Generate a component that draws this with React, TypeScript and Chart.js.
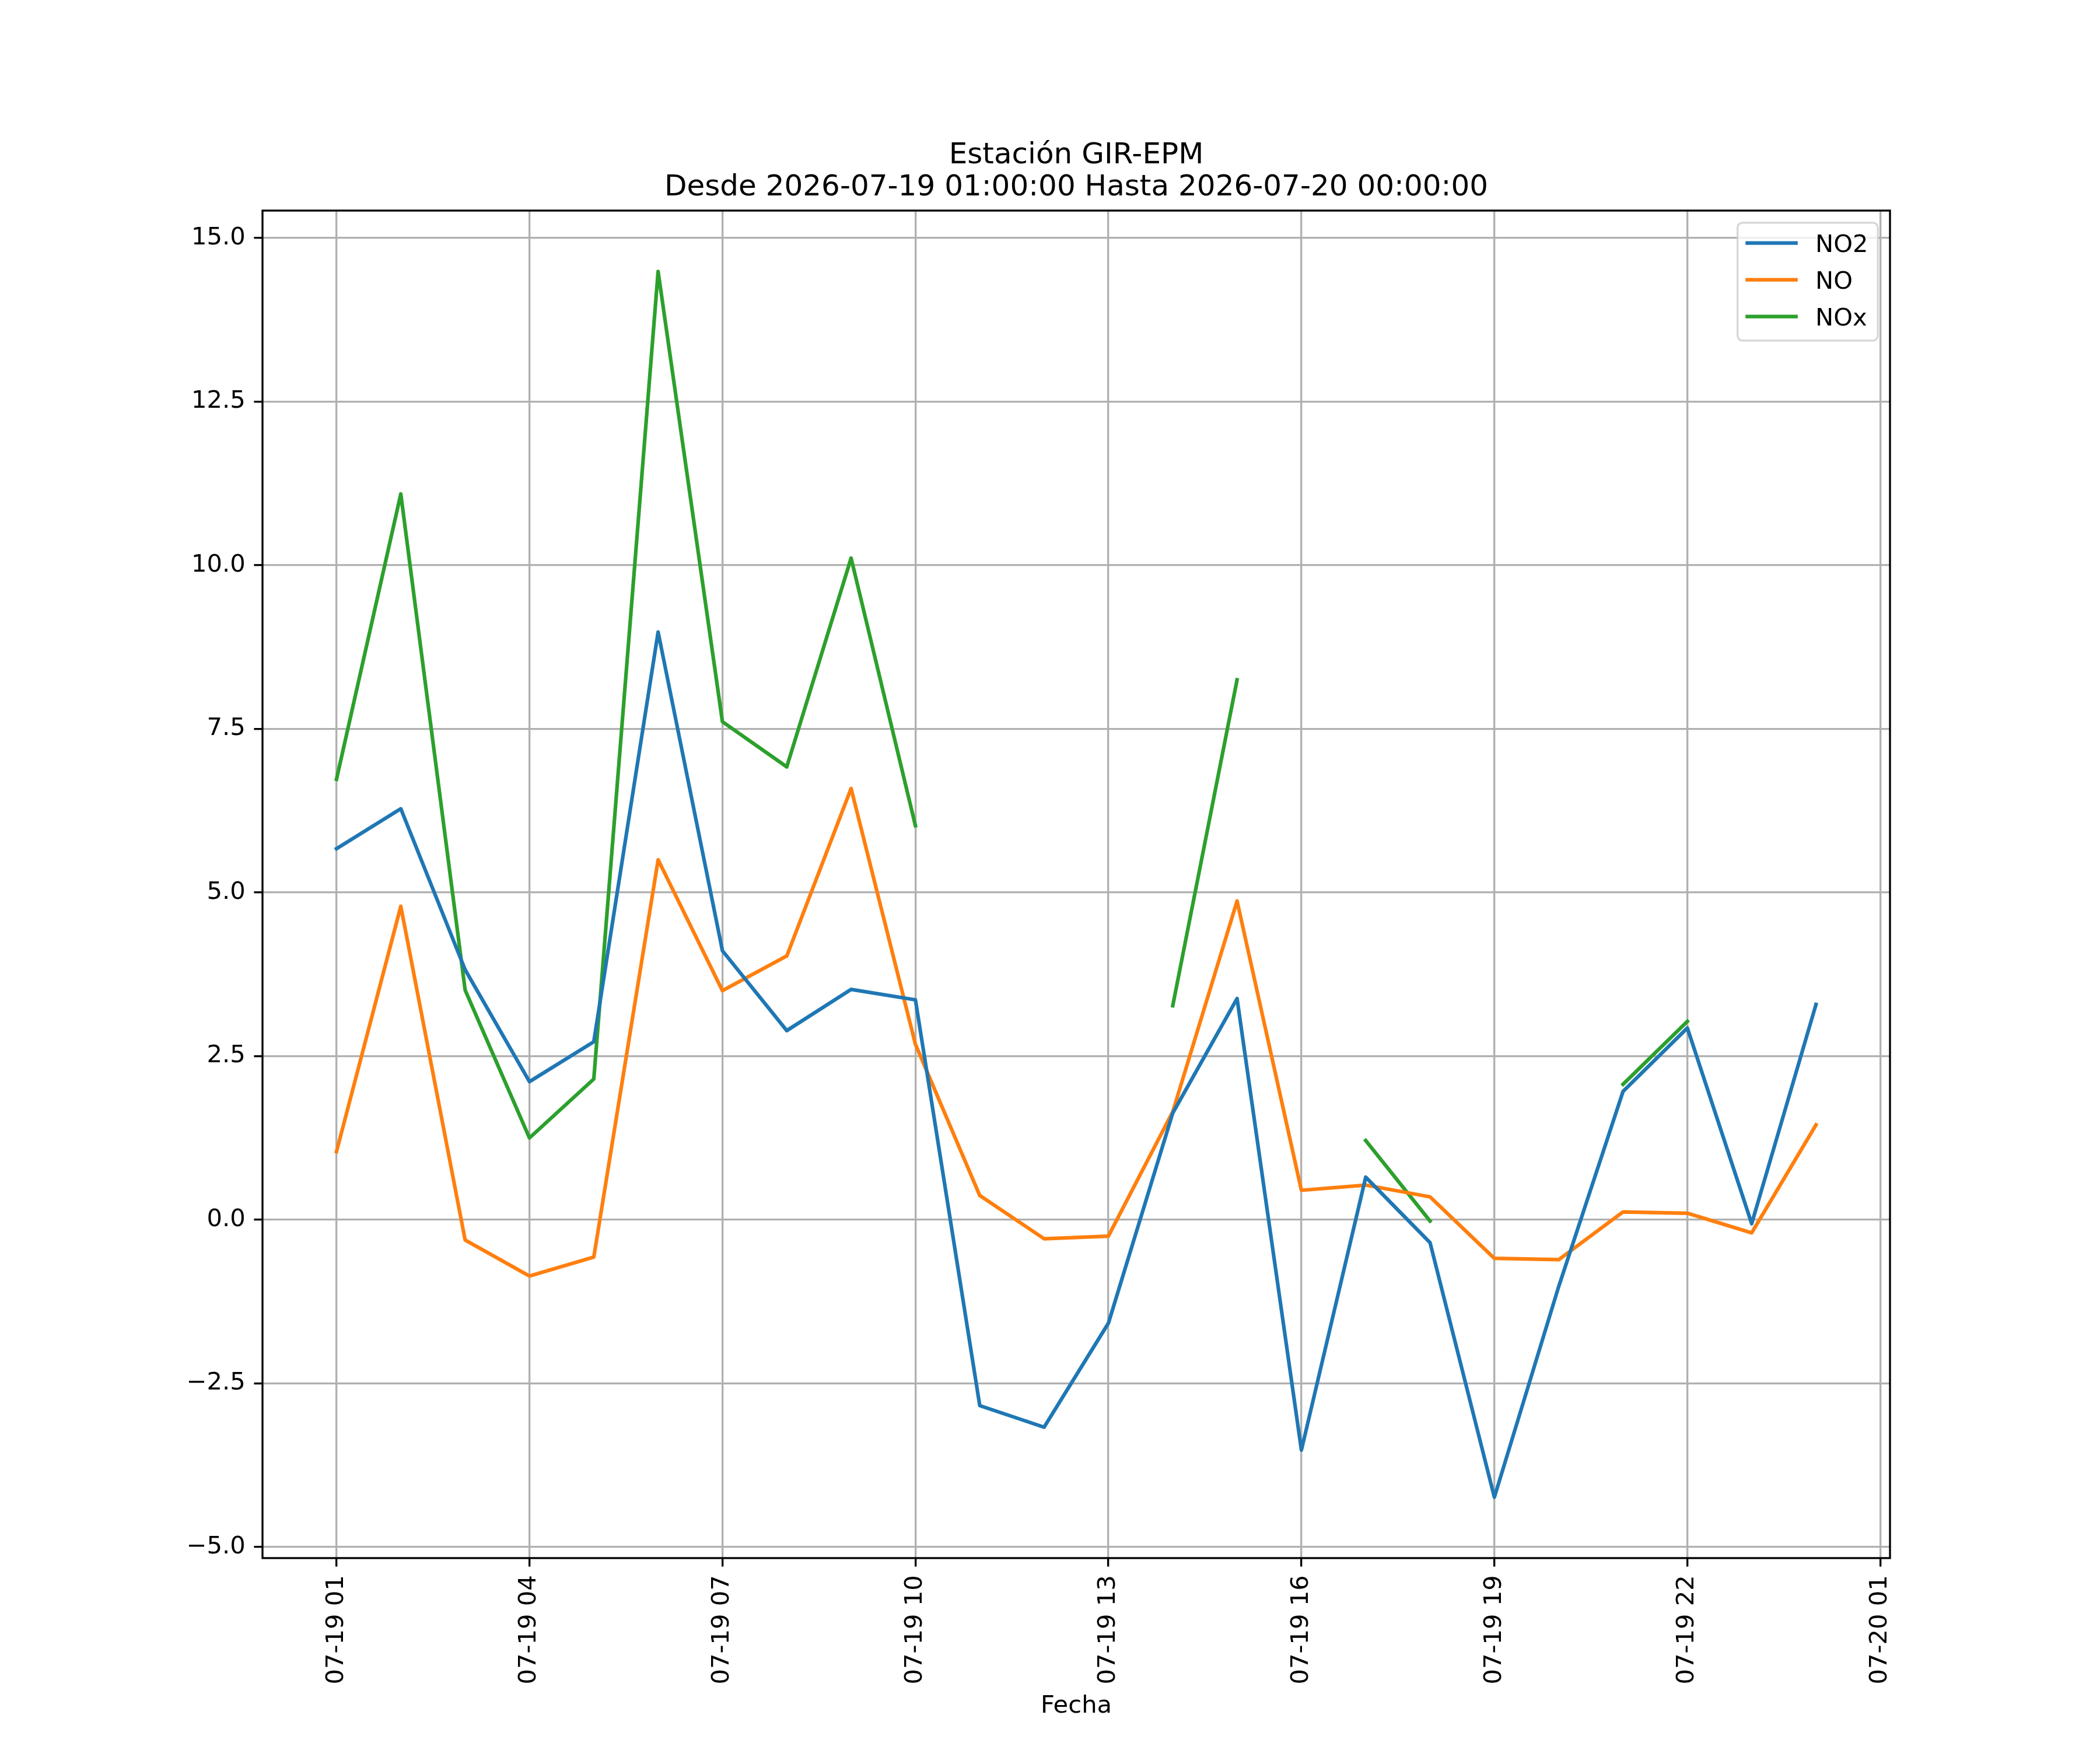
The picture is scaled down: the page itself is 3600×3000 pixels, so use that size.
import React, { useEffect, useRef } from 'react';
import { Chart, registerables } from 'chart.js';

Chart.register(...registerables);

// hourly samples, 2026-07-19 01:00 .. 2026-07-20 00:00
const times = [
    '2026-07-19 01:00', '2026-07-19 02:00', '2026-07-19 03:00', '2026-07-19 04:00',
    '2026-07-19 05:00', '2026-07-19 06:00', '2026-07-19 07:00', '2026-07-19 08:00',
    '2026-07-19 09:00', '2026-07-19 10:00', '2026-07-19 11:00', '2026-07-19 12:00',
    '2026-07-19 13:00', '2026-07-19 14:00', '2026-07-19 15:00', '2026-07-19 16:00',
    '2026-07-19 17:00', '2026-07-19 18:00', '2026-07-19 19:00', '2026-07-19 20:00',
    '2026-07-19 21:00', '2026-07-19 22:00', '2026-07-19 23:00', '2026-07-20 00:00',
];

const no2 = [5.67, 6.28, 3.82, 2.11, 2.72, 8.98, 4.11, 2.89, 3.52, 3.36, -2.84, -3.17,
    -1.58, 1.63, 3.38, -3.52, 0.65, -0.35, -4.24, -1.02, 1.96, 2.93, -0.06, 3.29];
const no = [1.04, 4.79, -0.31, -0.86, -0.57, 5.5, 3.5, 4.03, 6.59, 2.68, 0.37, -0.29,
    -0.25, 1.65, 4.87, 0.45, 0.53, 0.35, -0.59, -0.61, 0.12, 0.1, -0.2, 1.45];
const nox = [6.73, 11.09, 3.51, 1.25, 2.15, 14.49, 7.61, 6.92, 10.11, 6.02, null, null,
    null, 3.27, 8.25, null, 1.21, -0.02, null, null, 2.07, 3.03, null, null];

const xTickHours = [0, 3, 6, 9, 12, 15, 18, 21, 24];
const xTickLabels = ['07-19 01', '07-19 04', '07-19 07', '07-19 10', '07-19 13',
    '07-19 16', '07-19 19', '07-19 22', '07-20 01'];
const yTickValues = [-5, -2.5, 0, 2.5, 5, 7.5, 10, 12.5, 15];
const yTickLabels = ['\u22125.0', '\u22122.5', '0.0', '2.5', '5.0', '7.5', '10.0', '12.5', '15.0'];

const titleLines = ['Estación GIR-EPM', 'Desde 2026-07-19 01:00:00 Hasta 2026-07-20 00:00:00'];
const xTitle = 'Fecha';

// matplotlib-ish sizes at 300 dpi
const PT = 300 / 72;
const FAMILY = '"DejaVu Sans"';
const FS = 10 * PT;
const TITLE_FS = 12 * PT;
const THIN = 0.8 * PT;
const LINE_W = 1.5 * PT;
const TICK = 3.5 * PT;

const decorations = {
    id: 'decorations',
    afterDatasetsDraw(chart: any) {
        const { ctx, chartArea: a } = chart;
        ctx.save();

        // axes frame
        ctx.strokeStyle = '#000';
        ctx.lineWidth = THIN;
        ctx.strokeRect(a.left, a.top, a.right - a.left, a.bottom - a.top);

        // legend (upper right, inside)
        ctx.font = `${FS}px ${FAMILY}`;
        const sets = chart.data.datasets;
        const tw = Math.max(...sets.map((d: any) => ctx.measureText(d.label).width));
        const pad = 0.4 * FS;
        const handle = 2.0 * FS;
        const gap = 0.8 * FS;
        const w = pad + handle + gap + tw + pad;
        const h = 202;
        const x1 = a.right - 0.5 * FS;
        const y0 = a.top + 0.5 * FS;
        const x0 = x1 - w;
        const r = 0.2 * FS;
        ctx.beginPath();
        ctx.moveTo(x0 + r, y0);
        ctx.arcTo(x1, y0, x1, y0 + h, r);
        ctx.arcTo(x1, y0 + h, x0, y0 + h, r);
        ctx.arcTo(x0, y0 + h, x0, y0, r);
        ctx.arcTo(x0, y0, x1, y0, r);
        ctx.closePath();
        ctx.fillStyle = 'rgba(255,255,255,0.8)';
        ctx.fill();
        ctx.strokeStyle = 'rgba(204,204,204,0.8)';
        ctx.lineWidth = THIN;
        ctx.stroke();

        sets.forEach((d: any, i: number) => {
            const cy = y0 + 34.7 + i * 63;
            ctx.beginPath();
            ctx.moveTo(x0 + pad, cy);
            ctx.lineTo(x0 + pad + handle, cy);
            ctx.strokeStyle = d.borderColor;
            ctx.lineWidth = LINE_W;
            ctx.lineCap = 'square';
            ctx.stroke();
            ctx.fillStyle = '#000';
            ctx.textAlign = 'left';
            ctx.textBaseline = 'alphabetic';
            ctx.fillText(d.label, x0 + pad + handle + gap, cy + 0.3645 * FS);
        });

        // title and x axis label
        const cx = (a.left + a.right) / 2;
        ctx.fillStyle = '#000';
        ctx.textAlign = 'center';
        ctx.textBaseline = 'alphabetic';
        ctx.font = `${TITLE_FS}px ${FAMILY}`;
        ctx.fillText(titleLines[0], cx, 280);
        ctx.fillText(titleLines[1], cx, 335);
        ctx.font = `${FS}px ${FAMILY}`;
        ctx.fillText(xTitle, cx, 2936);

        ctx.restore();
    },
};

export default function App() {
    const canvasRef = useRef<HTMLCanvasElement | null>(null);

    useEffect(() => {
        if (!canvasRef.current) return;

        const series = (vals: (number | null)[]) => times.map((_, i) => ({ x: i, y: vals[i] }));
        const line = { borderWidth: LINE_W, pointRadius: 0, pointHoverRadius: 0, tension: 0,
            borderJoinStyle: 'round', borderCapStyle: 'square', spanGaps: false, fill: false };

        const chart = new Chart(canvasRef.current, {
            type: 'line',
            data: {
                datasets: [
                    { label: 'NO2', data: series(no2), borderColor: '#1f77b4', ...line },
                    { label: 'NO', data: series(no), borderColor: '#ff7f0e', ...line },
                    { label: 'NOx', data: series(nox), borderColor: '#2ca02c', ...line },
                ] as any,
            },
            options: {
                animation: false,
                responsive: false,
                devicePixelRatio: 1,
                layout: { padding: { left: 0, right: 360, top: 361, bottom: 0 } },
                plugins: {
                    legend: { display: false },
                    title: { display: false },
                    tooltip: { enabled: false },
                },
                scales: {
                    x: {
                        type: 'linear',
                        min: -1.15,
                        max: 24.15,
                        afterBuildTicks: (s: any) => { s.ticks = xTickHours.map((v) => ({ value: v })); },
                        afterFit: (s: any) => { s.height = 329; },
                        ticks: {
                            autoSkip: false,
                            minRotation: 90,
                            maxRotation: 90,
                            padding: TICK,
                            color: '#000',
                            font: { family: FAMILY, size: FS },
                            callback: (_v: any, i: number) => xTickLabels[i],
                        },
                        grid: { color: '#b0b0b0', lineWidth: THIN, tickColor: '#000', tickLength: TICK, tickWidth: THIN },
                        border: { display: false },
                    },
                    y: {
                        type: 'linear',
                        min: -5.17,
                        max: 15.42,
                        afterBuildTicks: (s: any) => { s.ticks = yTickValues.map((v) => ({ value: v })); },
                        afterFit: (s: any) => { s.width = 450; },
                        ticks: {
                            padding: TICK,
                            color: '#000',
                            font: { family: FAMILY, size: FS },
                            callback: (_v: any, i: number) => yTickLabels[i],
                        },
                        grid: { color: '#b0b0b0', lineWidth: THIN, tickColor: '#000', tickLength: TICK, tickWidth: THIN },
                        border: { display: false },
                    },
                },
            } as any,
            plugins: [decorations],
        });

        return () => {
            chart.destroy();
        };
    }, []);

    return (
        <div style={{ position: 'absolute', left: 0, top: 0, width: 3600, height: 3000, background: '#fff' }}>
            <canvas ref={canvasRef} width={3600} height={3000} style={{ display: 'block', width: 3600, height: 3000 }} />
        </div>
    );
}
